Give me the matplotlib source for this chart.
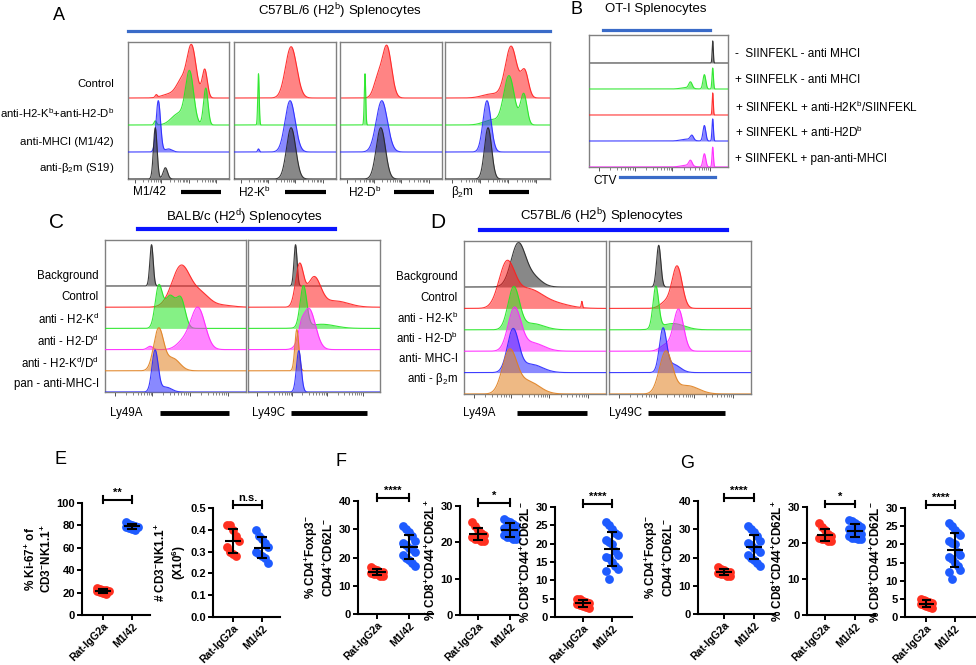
import numpy as np
import matplotlib.pyplot as plt

plt.rcParams['font.family'] = ['Liberation Sans', 'DejaVu Sans']
plt.rcParams['mathtext.fontset'] = 'custom'
plt.rcParams['mathtext.rm'] = 'Liberation Sans'
plt.rcParams['mathtext.it'] = 'Liberation Sans:italic'
plt.rcParams['mathtext.bf'] = 'Liberation Sans:bold'

W, H = 976, 665

RED = '#ff1f1f'
GREEN = '#22e622'
BLUE = '#2828ff'
BLACK = '#262626'
MAGENTA = '#ff22ff'
ORANGE = '#e0801f'
DOT_RED = '#ff3020'
DOT_BLUE = '#1e5bff'

# ---- histogram data: each peak is (centre, width, relative height), centre/width as fraction of the box
a_rows = ['Control', r'anti-H2-K$^\mathrm{b}$+anti-H2-D$^\mathrm{b}$', 'anti-MHCI (M1/42)', r'anti-β$_2$m (S19)']
a_stains = ['M1/42', r'H2-K$^\mathrm{b}$', r'H2-D$^\mathrm{b}$', r'β$_2$m']
a_colors = [RED, GREEN, BLUE, BLACK]
a_m142 = [
    [(0.63, 0.045, 1.0), (0.76, 0.025, 0.55), (0.53, 0.05, 0.3), (0.42, 0.08, 0.08), (0.28, 0.01, 0.05)],
    [(0.61, 0.04, 1.0), (0.77, 0.022, 0.72), (0.50, 0.07, 0.22), (0.27, 0.012, 0.08)],
    [(0.30, 0.022, 1.0), (0.40, 0.035, 0.06)],
    [(0.27, 0.018, 1.0), (0.37, 0.022, 0.22)],
]
a_h2kb = [
    [(0.56, 0.055, 1.0)],
    [(0.24, 0.007, 1.0)],
    [(0.55, 0.05, 1.0), (0.24, 0.008, 0.06)],
    [(0.56, 0.045, 1.0)],
]
a_h2db = [
    [(0.46, 0.045, 1.0), (0.37, 0.04, 0.35)],
    [(0.245, 0.007, 1.0)],
    [(0.41, 0.055, 1.0)],
    [(0.40, 0.045, 1.0)],
]
a_b2m = [
    [(0.63, 0.055, 1.0), (0.76, 0.035, 0.5), (0.45, 0.09, 0.08)],
    [(0.61, 0.05, 0.95), (0.75, 0.03, 0.6), (0.45, 0.08, 0.1)],
    [(0.40, 0.038, 1.0)],
    [(0.41, 0.034, 1.0)],
]

b_rows = ['-  SIINFEKL - anti MHCI', '+ SIINFELK - anti MHCI',
          r'+ SIINFEKL + anti-H2K$^\mathrm{b}$/SIINFEKL', r'+ SIINFEKL + anti-H2D$^\mathrm{b}$',
          '+ SIINFEKL + pan-anti-MHCI']
b_colors = [BLACK, GREEN, RED, BLUE, MAGENTA]
b_ctv = [
    [(0.89, 0.004, 1.0)],
    [(0.89, 0.005, 0.95), (0.83, 0.01, 0.65), (0.73, 0.012, 0.28), (0.70, 0.04, 0.06)],
    [(0.89, 0.004, 1.0)],
    [(0.89, 0.005, 1.0), (0.83, 0.01, 0.7), (0.74, 0.012, 0.22), (0.70, 0.04, 0.08)],
    [(0.89, 0.005, 0.9), (0.83, 0.01, 0.6), (0.73, 0.012, 0.25), (0.70, 0.04, 0.08)],
]

c_rows = ['Background', 'Control', r'anti - H2-K$^\mathrm{d}$', r'anti - H2-D$^\mathrm{d}$',
          r'anti - H2-K$^\mathrm{d}$/D$^\mathrm{d}$', 'pan - anti-MHC-I']
c_colors = [BLACK, RED, GREEN, MAGENTA, ORANGE, BLUE]
c_ly49a = [
    [(0.33, 0.012, 1.0)],
    [(0.54, 0.065, 1.0), (0.68, 0.06, 0.3), (0.82, 0.08, 0.05)],
    [(0.38, 0.025, 0.95), (0.46, 0.04, 0.78), (0.54, 0.03, 0.65)],
    [(0.66, 0.05, 1.0), (0.56, 0.05, 0.2), (0.32, 0.02, 0.08)],
    [(0.38, 0.035, 1.0), (0.48, 0.05, 0.3)],
    [(0.355, 0.022, 1.0), (0.43, 0.04, 0.12)],
]
c_ly49c = [
    [(0.36, 0.012, 1.0)],
    [(0.39, 0.03, 1.0), (0.50, 0.05, 0.7), (0.66, 0.1, 0.15)],
    [(0.42, 0.025, 1.0), (0.56, 0.1, 0.1)],
    [(0.46, 0.05, 1.0), (0.40, 0.02, 0.2)],
    [(0.37, 0.015, 1.0)],
    [(0.385, 0.018, 1.0)],
]

d_rows = ['Background', 'Control', r'anti - H2-K$^\mathrm{b}$', r'anti - H2-D$^\mathrm{b}$',
          'anti- MHC-I', r'anti - β$_2$m']
d_colors = [BLACK, RED, GREEN, MAGENTA, BLUE, ORANGE]
d_ly49a = [
    [(0.38, 0.05, 1.0), (0.48, 0.06, 0.25)],
    [(0.30, 0.055, 1.0), (0.45, 0.1, 0.45), (0.65, 0.1, 0.1), (0.83, 0.004, 0.15)],
    [(0.35, 0.04, 1.0), (0.48, 0.08, 0.15)],
    [(0.355, 0.045, 1.0), (0.48, 0.08, 0.2)],
    [(0.345, 0.04, 1.0), (0.47, 0.08, 0.2)],
    [(0.32, 0.05, 1.0), (0.45, 0.08, 0.3)],
]
d_ly49c = [
    [(0.35, 0.015, 1.0)],
    [(0.48, 0.035, 1.0), (0.40, 0.04, 0.15)],
    [(0.33, 0.02, 1.0), (0.45, 0.08, 0.15)],
    [(0.49, 0.035, 1.0), (0.40, 0.04, 0.15)],
    [(0.38, 0.025, 1.0), (0.45, 0.05, 0.2)],
    [(0.40, 0.045, 1.0), (0.55, 0.08, 0.2)],
]

# ---- dot plots (Rat-IgG2a vs M1/42)
groups = ['Rat-IgG2a', 'M1/42']
ki67_rat = [24, 23, 22.5, 22, 21.5, 21, 20.5, 20, 19]
ki67_m142 = [83, 81, 80, 79.5, 79, 78.5, 78, 77, 76]
nk_rat = [0.42, 0.42, 0.40, 0.37, 0.35, 0.32, 0.30, 0.29, 0.28]
nk_m142 = [0.40, 0.37, 0.36, 0.34, 0.32, 0.30, 0.29, 0.28, 0.27, 0.25]
cd4_rat = [16.5, 16, 15.5, 15, 15, 14.5, 14, 14, 13.5, 13.5]
cd4_m142 = [31, 30, 29, 27.5, 26, 25, 24.5, 23.5, 23, 22, 21, 20, 19, 18, 17]
cd8p_rat = [25.5, 24.5, 23.5, 22.5, 22, 21.5, 21, 21, 20.5, 20.5]
cd8p_m142 = [26.5, 26, 25.5, 25, 24.5, 24, 23.5, 23, 23, 22.5, 22, 21.5, 21.5, 21, 21]
cd8m_rat = [5, 4.8, 4.5, 4, 3.8, 3.5, 3.2, 3, 2.8, 2.5]
cd8m_m142 = [26, 25, 24, 23, 22.5, 21, 20.5, 20, 18, 17, 16.5, 16, 15, 14, 13, 12.5, 10.5]

fig = plt.figure(figsize=(W / 100, H / 100), dpi=100)


def px_rect(x0, y0, x1, y1):
    return [x0 / W, 1 - y1 / H, (x1 - x0) / W, (y1 - y0) / H]


def flow_box(rect, rows, colors, scale, ymax):
    ax = fig.add_axes(px_rect(*rect))
    x = np.linspace(0, 1, 600)
    n = len(rows)
    for i, (peaks, c) in enumerate(zip(rows, colors)):
        base = n - 1 - i
        y = np.zeros_like(x)
        for cen, wid, hgt in peaks:
            y += hgt * np.exp(-0.5 * ((x - cen) / wid) ** 2)
        top = base + scale * y
        ax.fill_between(x, base, top, color=c, alpha=0.55, lw=0, zorder=2 + i)
        ax.plot(x, top, color=c, lw=0.8, alpha=0.9, zorder=2 + i)
    ax.set_xlim(0, 1)
    ax.set_ylim(0, ymax)
    ax.set_yticks([])
    major = [0.07, 0.33, 0.60, 0.87]
    minor = [d + 0.27 * np.log10(k) for d in major[:-1] for k in range(2, 10)]
    ax.set_xticks(major)
    ax.set_xticks(minor, minor=True)
    ax.tick_params(axis='x', which='major', length=3, width=0.7, colors='#555555', labelbottom=False)
    ax.tick_params(axis='x', which='minor', length=1.8, width=0.5, colors='#555555')
    for s in ax.spines.values():
        s.set_color('#808080')
        s.set_linewidth(1.0)
    return ax


def dot_panel(rect, xlim, red, blue, ymax, step, fmt, star, ylabel):
    ax = fig.add_axes(px_rect(*rect))
    for k, (vals, c) in enumerate([(red, DOT_RED), (blue, DOT_BLUE)]):
        v = np.sort(np.asarray(vals, dtype=float))[::-1]
        off = ((np.arange(len(v)) % 5) - 2) * 0.1
        ax.scatter(k + off, v, s=40, color=c, zorder=2, linewidths=0, clip_on=False)
        m, sd = v.mean(), v.std(ddof=1)
        kw = dict(color='black', lw=1.5, zorder=3, solid_capstyle='butt')
        ax.plot([k - 0.28, k + 0.28], [m, m], **kw)
        ax.plot([k - 0.16, k + 0.16], [m - sd] * 2, **kw)
        ax.plot([k - 0.16, k + 0.16], [m + sd] * 2, **kw)
        ax.plot([k, k], [m - sd, m + sd], **kw)
    ax.set_xlim(*xlim)
    ax.set_ylim(0, ymax)
    ticks = np.arange(0, ymax + step / 2, step)
    ax.set_yticks(ticks)
    ax.set_yticklabels([fmt % t for t in ticks], fontsize=8, fontweight='bold')
    ax.set_xticks([0, 1])
    ax.set_xticklabels(groups, rotation=45, ha='right', rotation_mode='anchor',
                       fontsize=7.6, fontweight='bold')
    for s in ['top', 'right']:
        ax.spines[s].set_visible(False)
    for s in ['left', 'bottom']:
        ax.spines[s].set_linewidth(1.5)
    ax.tick_params(length=3.5, width=1.4, pad=1.5)
    ax.tick_params(axis='x', pad=1)
    ax.set_ylabel(ylabel, fontsize=8.5, fontweight='bold', labelpad=2, linespacing=1.1)
    tr = ax.get_xaxis_transform()
    bk = dict(color='black', lw=1.5, clip_on=False, transform=tr)
    ax.plot([0, 1], [1.03, 1.03], **bk)
    ax.plot([0, 0], [1.0, 1.06], **bk)
    ax.plot([1, 1], [1.0, 1.06], **bk)
    ax.text(0.5, 1.05, star, transform=tr, ha='center', va='bottom', fontsize=8, fontweight='bold')
    return ax


# panel A
for rect, rows in zip([(128, 42, 229, 179), (234, 42, 336, 179), (340, 42, 442, 179), (445, 42, 550, 179)],
                      [a_m142, a_h2kb, a_h2db, a_b2m]):
    flow_box(rect, rows, a_colors, 1.9, 137 / 27)
# panel B
flow_box((589, 35, 728, 167), b_ctv, b_colors, 0.85, 132 / 26)
# panels C, D
flow_box((105, 240, 246, 392), c_ly49a, c_colors, 1.95, 152 / 21.2)
flow_box((248, 240, 380, 392), c_ly49c, c_colors, 1.95, 152 / 21.2)
flow_box((464, 241, 606, 394), d_ly49a, d_colors, 1.95, 153 / 21.4)
flow_box((609, 241, 751, 394), d_ly49c, d_colors, 1.95, 153 / 21.4)

# panels E, F, G
lab_ki = '% Ki-67$^{\\mathbf{+}}$ of\nCD3$^{\\mathbf{-}}$NK1.1$^{\\mathbf{+}}$'
lab_nk = '# CD3$^{\\mathbf{-}}$NK1.1$^{\\mathbf{+}}$\n(X10$^{\\mathbf{6}}$)'
lab_cd4 = '% CD4$^{\\mathbf{+}}$Foxp3$^{\\mathbf{-}}$\nCD44$^{\\mathbf{+}}$CD62L$^{\\mathbf{-}}$'
lab_cd8p = '% CD8$^{\\mathbf{+}}$CD44$^{\\mathbf{+}}$CD62L$^{\\mathbf{+}}$'
lab_cd8m = '% CD8$^{\\mathbf{+}}$CD44$^{\\mathbf{+}}$CD62L$^{\\mathbf{-}}$'

dot_panel((82, 503, 150, 615), (-0.72, 1.62), ki67_rat, ki67_m142, 100, 20, '%d', '**', lab_ki)
dot_panel((213, 508, 280, 617), (-0.69, 1.62), nk_rat, nk_m142, 0.5, 0.1, '%.1f', 'n.s.', lab_nk)
dot_panel((358, 501, 433, 614), (-0.59, 1.75), cd4_rat, cd4_m142, 40, 10, '%d', '****', lab_cd4)
dot_panel((460, 506, 518, 615), (-0.56, 1.25), cd8p_rat, cd8p_m142, 30, 10, '%d', '*', lab_cd8p)
dot_panel((555, 507, 632, 617), (-0.97, 1.69), cd8m_rat, cd8m_m142, 30, 5, '%d', '****', lab_cd8m)
dot_panel((698, 501, 775, 614), (-0.87, 1.70), cd4_rat, cd4_m142, 40, 10, '%d', '****', lab_cd4)
dot_panel((807, 507, 875, 615), (-0.60, 1.67), cd8p_rat, cd8p_m142, 30, 10, '%d', '*', lab_cd8p)
dot_panel((905, 508, 975, 617), (-0.76, 1.72), cd8m_rat, cd8m_m142, 30, 5, '%d', '****', lab_cd8m)

# overlay in pixel coordinates for labels, titles and bars
ov = fig.add_axes([0, 0, 1, 1], zorder=10)
ov.set_xlim(0, W)
ov.set_ylim(H, 0)
ov.axis('off')
ov.patch.set_alpha(0)

for letter, x, y, fs in [('A', 59, 16, 13), ('B', 577, 10, 13), ('C', 57, 223, 15), ('D', 438, 223, 15),
                         ('E', 60, 460, 13), ('F', 341, 462, 13), ('G', 687, 463, 13)]:
    ov.text(x, y, letter, fontsize=fs, ha='center', va='center')

ov.text(340, 11, r'C57BL/6 (H2$^\mathrm{b}$) Splenocytes', fontsize=9.5, ha='center', va='center')
ov.text(656, 9, 'OT-I Splenocytes', fontsize=9.5, ha='center', va='center')
ov.text(244, 217, r'BALB/c (H2$^\mathrm{d}$) Splenocytes', fontsize=9.5, ha='center', va='center')
ov.text(602, 216, r'C57BL/6 (H2$^\mathrm{b}$) Splenocytes', fontsize=9.5, ha='center', va='center')

lblue = '#3a6bc8'
ov.plot([128, 550], [31, 31], color=lblue, lw=2.3)
ov.plot([603, 710], [30, 30], color=lblue, lw=2.3)
ov.plot([620, 715], [177, 177], color=lblue, lw=2.3)
ov.plot([138, 335], [229, 229], color='#0a14ff', lw=3)
ov.plot([480, 727], [230, 230], color='#0a14ff', lw=3)

for lab, y in zip(a_rows, [84, 113, 142, 168]):
    ov.text(114, y, lab, fontsize=8.2, ha='right', va='center')
for lab, y in zip(b_rows, [54, 80, 107, 132, 159]):
    ov.text(735, y, lab, fontsize=8.5, ha='left', va='center')
for lab, y in zip(c_rows, [276, 297, 319, 341, 363, 384]):
    ov.text(99, y, lab, fontsize=8.3, ha='right', va='center')
for lab, y in zip(d_rows, [277, 298, 318, 338, 359, 379]):
    ov.text(458, y, lab, fontsize=8.3, ha='right', va='center')

for lab, x, bar in zip(a_stains, [133, 238, 348, 451], [(181, 221), (285, 326), (394, 434), (489, 529)]):
    ov.text(x, 192, lab, fontsize=8.5, ha='left', va='center')
    ov.plot(bar, [192, 192], color='black', lw=3, solid_capstyle='butt')
ov.text(593, 181, 'CTV', fontsize=8.5, ha='left', va='center')
for lab, x, bar in [('Ly49A', 110, (160, 229)), ('Ly49C', 252, (291, 367)),
                    ('Ly49A', 463, (517, 587)), ('Ly49C', 609, (648, 725))]:
    ov.text(x, 413, lab, fontsize=8.3, ha='left', va='center')
    ov.plot(bar, [413, 413], color='black', lw=3.5, solid_capstyle='butt')

fig.savefig('out.png', dpi=100)
